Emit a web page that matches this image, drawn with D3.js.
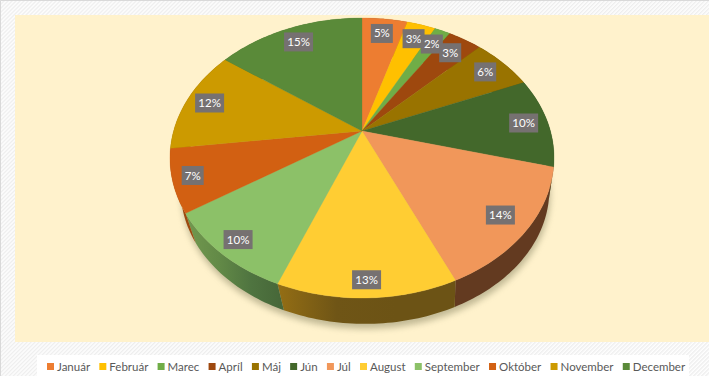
<!DOCTYPE html>
<html>
<head>
<meta charset="utf-8">
<script src="https://cdn.jsdelivr.net/npm/d3@7"></script>
<style>
  html, body { margin: 0; padding: 0; background: #fff; overflow: hidden; }
  svg { display: block; }
  text { font-family: Lato, "Open Sans", sans-serif; }
</style>
</head>
<body>
<div id="chart"></div>
<script>
// data
const months = ["Január", "Február", "Marec", "Apríl", "Máj", "Jún", "Júl", "August", "September", "Október", "November", "December"];
const shares = [4.6, 2.9, 1.6, 3.4, 6.2, 10.4, 14.2, 12.7, 9.8, 7.2, 12, 15];
const colors = ["#ED7D31", "#FFC000", "#70AD47", "#9E480E", "#997300", "#43682B", "#F1975A", "#FFCD33", "#8CC168", "#D26012", "#CC9A00", "#5A8A39"];

/** CONSTANTS */
const width = 709;
const height = 376;
const plot = {left: 15, top: 15, right: 709, bottom: 342};
const legendBox = {left: 37, top: 355, right: 689, bottom: 376};

// the tilted pie: apex of the top face, radii and perspective strength
const apex = {x: 362, y: 131};
const radiusX = 188.4, radiusY = 134.8, perspective = 0.193;
// the bottom rim sits lower and a bit smaller than the top one
const bottomApexX = 365, bottomApexY = 164, bottomScaleX = 0.96, bottomScaleY = 0.957;

// how far out along the radius each label sits
const labelRadius = [.85, .85, .85, .84, .86, .87, .86, .91, .9, .9, .87, .85];

const svg = d3.select("#chart")
  .append("svg")
  .attr("width", width)
  .attr("height", height);

const defs = svg.append("defs");

const hatch = defs.append("pattern")
  .attr("id", "hatch")
  .attr("width", 2.83)
  .attr("height", 2.83)
  .attr("patternUnits", "userSpaceOnUse")
  .attr("patternTransform", "rotate(45)");
hatch.append("rect").attr("width", 2.83).attr("height", 2.83).attr("fill", "#fff");
hatch.append("rect").attr("width", 1.41).attr("height", 2.83).attr("fill", "#eeeeee");

defs.append("filter")
  .attr("id", "blur")
  .attr("x", "-10%").attr("y", "-10%")
  .attr("width", "120%").attr("height", "120%")
  .append("feGaussianBlur")
  .attr("stdDeviation", 3);

// wall colours are shaded by hand, two of them fade along the rim
const wallStops = {
  7: ["#946e14", "#6f5516", "#6c5315", "#6c5315"],
  8: ["#72994f", "#638a47", "#4f7440", "#466638"]
};
const wallColor = {0: "#8a4c1c", 6: "#633a20", 9: "#9c4a0f", 10: "#8a6a10", 11: "#4a6b30"};

Object.keys(wallStops).forEach(i => {
  const gradient = defs.append("linearGradient").attr("id", `wall${i}`);
  wallStops[i].forEach((c, k) => {
    gradient.append("stop")
      .attr("offset", k / (wallStops[i].length - 1))
      .attr("stop-color", c);
  });
});

/** PROJECTION */
// angle is clockwise from 12 o'clock, like d3.pie
function project(angle, r = 1) {
  const u = r * Math.sin(angle);
  const v = -r * Math.cos(angle);
  const w = 1 - perspective * v;
  return [radiusX * u / w, radiusY * v / w];
}
const topPoint = (angle, r = 1) => {
  const [x, y] = project(angle, r);
  return [apex.x + x, apex.y + y];
};
const bottomPoint = angle => {
  const [x, y] = project(angle);
  return [bottomApexX + x * bottomScaleX, bottomApexY + y * bottomScaleY];
};

const rim = (start, end, fn) => {
  const steps = Math.max(2, Math.ceil((end - start) / 0.02));
  return d3.range(steps + 1).map(k => fn(start + (end - start) * k / steps));
};

const slices = d3.pie().sort(null).value(d => d)(shares);
const line = d3.line();

/** BACKGROUND */
svg.append("rect")
  .attr("width", width)
  .attr("height", height)
  .attr("fill", "url(#hatch)");

svg.append("path")
  .attr("d", `M0.5,${height}V0.5H${width}`)
  .attr("fill", "none")
  .attr("stroke", "#d9d9d9")
  .attr("stroke-width", 1);

svg.append("rect")
  .attr("x", plot.left)
  .attr("y", plot.top)
  .attr("width", plot.right - plot.left)
  .attr("height", plot.bottom - plot.top)
  .attr("fill", "#FFF2CC");

/** PIE */
// soft shadow below the pie
svg.append("path")
  .attr("d", line(rim(0, Math.PI * 2, bottomPoint)) + "Z")
  .attr("transform", "translate(1,5)")
  .attr("fill", "#8f8a68")
  .attr("opacity", 0.55)
  .attr("filter", "url(#blur)");

// side walls first, the top face covers whatever is at the back
svg.selectAll("path.wall")
  .data(slices)
  .join("path")
  .attr("class", "wall")
  .attr("d", d => line(rim(d.startAngle, d.endAngle, topPoint).concat(rim(d.startAngle, d.endAngle, bottomPoint).reverse())) + "Z")
  .attr("fill", (d, i) => wallStops[i] ? `url(#wall${i})` : (wallColor[i] || d3.color(colors[i]).darker(1)));

svg.selectAll("path.slice")
  .data(slices)
  .join("path")
  .attr("class", "slice")
  .attr("d", d => line([[apex.x, apex.y]].concat(rim(d.startAngle, d.endAngle, topPoint))) + "Z")
  .attr("fill", (d, i) => colors[i])
  .attr("stroke", (d, i) => colors[i])
  .attr("stroke-width", 0.3);

/** LABELS */
const labels = svg.selectAll("g.label")
  .data(slices)
  .join("g")
  .attr("class", "label")
  .attr("transform", (d, i) => `translate(${topPoint((d.startAngle + d.endAngle) / 2, labelRadius[i])})`);

labels.append("rect")
  .attr("x", d => d.value >= 9.5 ? -14.5 : -11)
  .attr("y", -9.5)
  .attr("width", d => d.value >= 9.5 ? 29 : 22)
  .attr("height", 19)
  .attr("fill", "#767171");

labels.append("text")
  .attr("text-anchor", "middle")
  .attr("dy", "0.35em")
  .attr("fill", "#fff")
  .attr("font-size", 11.5)
  .text(d => d3.format(".0%")(d.value / 100));

/** LEGEND */
svg.append("rect")
  .attr("x", legendBox.left)
  .attr("y", legendBox.top)
  .attr("width", legendBox.right - legendBox.left)
  .attr("height", legendBox.bottom - legendBox.top)
  .attr("fill", "#fff");

const legend = svg.selectAll("g.legend")
  .data(months)
  .join("g")
  .attr("class", "legend");

legend.append("rect")
  .attr("y", 363)
  .attr("width", 7)
  .attr("height", 7)
  .attr("fill", (d, i) => colors[i]);

legend.append("text")
  .attr("x", 10)
  .attr("y", 370.5)
  .attr("fill", "#595959")
  .attr("font-size", 11.5)
  .text(d => d);

// run the entries along from the left, each one as wide as its text
let legendX = 47;
legend.each(function () {
  d3.select(this).attr("transform", `translate(${legendX},0)`);
  legendX += 10 + d3.select(this).select("text").node().getComputedTextLength() + 9.25;
});
</script>
</body>
</html>
